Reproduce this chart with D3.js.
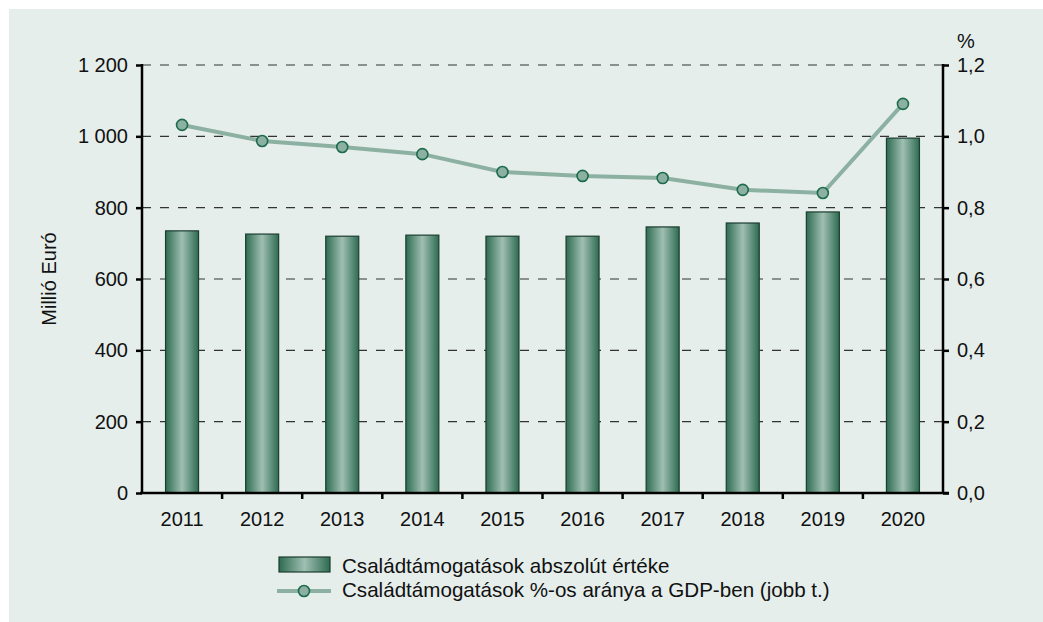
<!DOCTYPE html>
<html>
<head>
<meta charset="utf-8">
<script src="https://cdn.jsdelivr.net/npm/d3@7.9.0/dist/d3.min.js"></script>
<style>
  body { margin: 0; background: #fff; }
  svg { display: block; font-family: "Liberation Sans", Arial, sans-serif; }
</style>
</head>
<body>
<svg id="chart" width="1043" height="622"></svg>
<script>
// === Data ===
const years = ['2011', '2012', '2013', '2014', '2015', '2016', '2017', '2018', '2019', '2020'];
const absolute = [735, 726, 720, 723, 720, 720, 746, 757, 788, 995];
const gdpShare = [1.032, 0.987, 0.970, 0.950, 0.900, 0.889, 0.883, 0.850, 0.841, 1.091];
const leftTicks = [0, 200, 400, 600, 800, 1000, 1200];
const rightTicks = [0, 0.2, 0.4, 0.6, 0.8, 1.0, 1.2];

const svg = d3.select('#chart');
const margin = { left: 142, right: 100, top: 65, bottom: 129 };
const W = 1043, H = 622;
const x0 = margin.left, x1 = W - margin.right, yTop = margin.top, yBot = H - margin.bottom;

// background panel
svg.append('rect').attr('x', 9).attr('y', 9).attr('width', W - 9).attr('height', H - 9)
  .attr('fill', '#e5eeeb');

// gradient for bars
const defs = svg.append('defs');
const grad = defs.append('linearGradient').attr('id', 'barGrad')
  .attr('x1', '0%').attr('x2', '100%').attr('y1', '0%').attr('y2', '0%');
grad.append('stop').attr('offset', '0%').attr('stop-color', '#2e6b52');
grad.append('stop').attr('offset', '50%').attr('stop-color', '#9fbfb2');
grad.append('stop').attr('offset', '100%').attr('stop-color', '#2e6b52');

const x = d3.scaleBand().domain(years).range([x0, x1]);
const yL = d3.scaleLinear().domain([0, 1200]).range([yBot, yTop]);
const yR = d3.scaleLinear().domain([0, 1.2]).range([yBot, yTop]);

// gridlines
svg.append('g').selectAll('line').data(leftTicks.filter(d => d > 0)).join('line')
  .attr('x1', x0).attr('x2', x1)
  .attr('y1', d => yL(d)).attr('y2', d => yL(d))
  .attr('stroke', '#333').attr('stroke-width', 1.2).attr('stroke-dasharray', '9,9');

// bars
const barW = 33;
svg.append('g').selectAll('rect').data(absolute).join('rect')
  .attr('x', (d, i) => x(years[i]) + x.bandwidth() / 2 - barW / 2)
  .attr('y', d => yL(d))
  .attr('width', barW)
  .attr('height', d => yBot - yL(d))
  .attr('fill', 'url(#barGrad)')
  .attr('stroke', '#1c3d30').attr('stroke-width', 1.2);

// line
const line = d3.line()
  .x((d, i) => x(years[i]) + x.bandwidth() / 2)
  .y(d => yR(d));
svg.append('path').datum(gdpShare)
  .attr('d', line).attr('fill', 'none')
  .attr('stroke', '#8cb1a3').attr('stroke-width', 4);
svg.append('g').selectAll('circle').data(gdpShare).join('circle')
  .attr('cx', (d, i) => x(years[i]) + x.bandwidth() / 2)
  .attr('cy', d => yR(d))
  .attr('r', 5.5)
  .attr('fill', '#8cb1a3').attr('stroke', '#1d6a4c').attr('stroke-width', 1.6);

// axes
const fontSize = 20;
const leftAxis = svg.append('g').attr('transform', `translate(${x0},0)`)
  .call(d3.axisLeft(yL).tickValues(leftTicks).tickSize(6).tickPadding(8)
    .tickFormat(d => d3.format(',')(d).replace(/,/g, ' ')));
const rightAxis = svg.append('g').attr('transform', `translate(${x1},0)`)
  .call(d3.axisRight(yR).tickValues(rightTicks).tickSize(6).tickPadding(8)
    .tickFormat(d => d3.format('.1f')(d).replace('.', ',')));
[leftAxis, rightAxis].forEach(a => {
  a.select('.domain').attr('stroke', '#000').attr('stroke-width', 2.5)
    .attr('d', `M0,${yTop - 1}V${yBot}`);
  a.selectAll('.tick line').attr('stroke', '#000').attr('stroke-width', 2.5);
  a.selectAll('.tick text').attr('font-size', fontSize).attr('fill', '#111');
});

const bottomAxis = svg.append('g').attr('transform', `translate(0,${yBot})`)
  .call(d3.axisBottom(x).tickSize(0).tickPadding(19));
bottomAxis.select('.domain').remove();
bottomAxis.selectAll('.tick text').attr('font-size', fontSize).attr('fill', '#111');
svg.append('line').attr('x1', x0 - 2).attr('x2', x1 + 6).attr('y1', yBot).attr('y2', yBot)
  .attr('stroke', '#000').attr('stroke-width', 2.5);
svg.append('g').selectAll('line').data(years.slice(1)).join('line')
  .attr('x1', d => x(d)).attr('x2', d => x(d))
  .attr('y1', yBot).attr('y2', yBot + 6)
  .attr('stroke', '#000').attr('stroke-width', 2.5);

// axis titles
svg.append('text').attr('transform', `translate(56,${(yTop + yBot) / 2}) rotate(-90)`)
  .attr('text-anchor', 'middle').attr('font-size', fontSize).attr('fill', '#111')
  .text('Millió Euró');
svg.append('text').attr('x', 966).attr('y', 48).attr('text-anchor', 'middle')
  .attr('font-size', fontSize).attr('fill', '#111').text('%');

// legend
const legendSize = 20.6;
const lg = svg.append('g');
lg.append('rect').attr('x', 279).attr('y', 557).attr('width', 51).attr('height', 15)
  .attr('fill', 'url(#barGrad)').attr('stroke', '#1c3d30').attr('stroke-width', 1.2);
lg.append('text').attr('x', 342).attr('y', 573).attr('font-size', legendSize).attr('fill', '#111')
  .text('Családtámogatások abszolút értéke');
lg.append('line').attr('x1', 277).attr('x2', 331).attr('y1', 591).attr('y2', 591)
  .attr('stroke', '#8cb1a3').attr('stroke-width', 4);
lg.append('circle').attr('cx', 304).attr('cy', 591).attr('r', 5.5)
  .attr('fill', '#8cb1a3').attr('stroke', '#1d6a4c').attr('stroke-width', 1.6);
lg.append('text').attr('x', 342).attr('y', 597).attr('font-size', legendSize).attr('fill', '#111')
  .text('Családtámogatások %-os aránya a GDP-ben (jobb t.)');
</script>
</body>
</html>
